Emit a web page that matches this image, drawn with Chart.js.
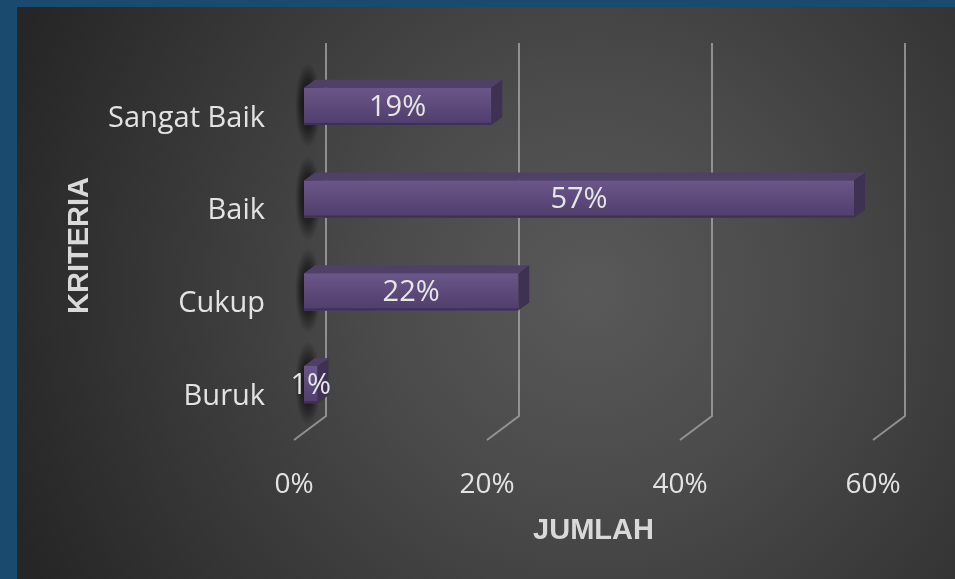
<!DOCTYPE html>
<html><head><meta charset="utf-8">
<script src="https://cdn.jsdelivr.net/npm/chart.js@4"></script>
<style>html,body{margin:0;padding:0;background:#1a4b6e;overflow:hidden}canvas{display:block}</style>
</head><body>
<canvas id="c" width="955" height="579"></canvas>
<script>
const categories = ['Sangat Baik', 'Baik', 'Cukup', 'Buruk'];
const percentValues = [19.4, 57.0, 22.2, 1.4];
const xTickValues = [0, 20, 40, 60];
const xAxisTitle = 'JUMLAH';
const yAxisTitle = 'KRITERIA';

const DX = 11, DY = -8;
const labelFont = '"Open Sans", "DejaVu Sans", sans-serif';
const titleFont = '"Liberation Sans", Arial, sans-serif';

const threeD = {
  id: 'threeD',
  beforeDraw(chart) {
    const {ctx, width, height} = chart;
    ctx.save();
    ctx.fillStyle = '#1a4b6e';
    ctx.fillRect(0, 0, width, height);
    const g = ctx.createRadialGradient(590, 290, 0, 590, 290, 620);
    g.addColorStop(0, '#595959');
    g.addColorStop(0.35, '#4a4a4a');
    g.addColorStop(1, '#262626');
    ctx.fillStyle = g;
    ctx.fillRect(17, 7, width - 17, height - 7);
    ctx.restore();
  },
  beforeDatasetsDraw(chart) {
    const {ctx, chartArea, scales: {x}} = chart;
    const meta = chart.getDatasetMeta(0);
    meta.data.forEach(b => {
      const h = b.height;
      ctx.save();
      ctx.translate(b.base + 4, b.y - 1);
      ctx.scale(13, h / 2 + 24);
      const g = ctx.createRadialGradient(0, 0, 0, 0, 0, 1);
      g.addColorStop(0, 'rgba(0,0,0,0.8)');
      g.addColorStop(0.55, 'rgba(0,0,0,0.5)');
      g.addColorStop(1, 'rgba(0,0,0,0)');
      ctx.fillStyle = g;
      ctx.fillRect(-1, -1, 2, 2);
      ctx.restore();
    });
    ctx.save();
    ctx.strokeStyle = 'rgba(170,170,170,0.75)';
    ctx.lineWidth = 2;
    x.ticks.forEach(t => {
      const px = x.getPixelForValue(t.value);
      ctx.beginPath();
      ctx.moveTo(px + 22, chartArea.top - 17);
      ctx.lineTo(px + 22, chartArea.bottom - 15);
      ctx.lineTo(px - 10, chartArea.bottom + 9);
      ctx.stroke();
    });
    ctx.restore();
  },
  afterDatasetsDraw(chart) {
    const {ctx} = chart;
    const meta = chart.getDatasetMeta(0);
    const data = chart.data.datasets[0].data;
    ctx.save();
    meta.data.forEach((b, i) => {
      const h = b.height, top = b.y - h / 2, bot = b.y + h / 2;
      const l = b.base, r = b.x;
      const g = ctx.createLinearGradient(0, top, 0, bot);
      g.addColorStop(0, '#6b5689');
      g.addColorStop(1, '#4f3d6b');
      ctx.fillStyle = g;
      ctx.fillRect(l, top, r - l, h);
      ctx.fillStyle = '#3e3055';
      ctx.fillRect(l, bot - 2, r - l, 2);
      ctx.fillStyle = '#4f4068';
      ctx.beginPath();
      ctx.moveTo(l, top); ctx.lineTo(l + DX, top + DY); ctx.lineTo(r + DX, top + DY); ctx.lineTo(r, top);
      ctx.closePath(); ctx.fill();
      ctx.fillStyle = '#3e3152';
      ctx.beginPath();
      ctx.moveTo(r, top); ctx.lineTo(r + DX, top + DY); ctx.lineTo(r + DX, bot + DY); ctx.lineTo(r, bot);
      ctx.closePath(); ctx.fill();
    });
    ctx.fillStyle = '#e6e6e6';
    ctx.font = '29px ' + labelFont;
    ctx.textAlign = 'center';
    ctx.textBaseline = 'middle';
    meta.data.forEach((b, i) => {
      ctx.fillText(Math.round(data[i]) + '%', (b.base + b.x) / 2, b.y + 1);
    });
    ctx.restore();
  }
};

new Chart(document.getElementById('c'), {
  type: 'bar',
  data: {
    labels: categories,
    datasets: [{
      data: percentValues,
      backgroundColor: '#5d4879',
      borderWidth: 0,
      barPercentage: 0.4,
      categoryPercentage: 1
    }]
  },
  options: {
    indexAxis: 'y',
    responsive: false,
    animation: false,
    devicePixelRatio: 1,
    layout: {padding: {top: 60, right: 72, bottom: 0, left: 0}},
    plugins: {legend: {display: false}, tooltip: {enabled: false}},
    scales: {
      x: {
        min: 0, max: 60,
        afterBuildTicks: s => { s.ticks = xTickValues.map(v => ({value: v})); },
        afterFit: s => { s.height = 148; },
        border: {display: false},
        grid: {display: false, drawTicks: false},
        ticks: {
          padding: 37, labelOffset: -10, color: '#e3e3e3',
          font: {family: labelFont, size: 28},
          callback: v => v + '%'
        },
        title: {
          display: true, text: xAxisTitle, color: '#d9d9d9',
          font: {family: titleFont, size: 29, weight: 'bold'},
          padding: {top: 0, bottom: 31}
        }
      },
      y: {
        afterFit: s => { s.width = 304; },
        border: {display: false},
        grid: {display: false, drawTicks: false},
        ticks: {
          padding: 39, labelOffset: 12, color: '#e3e3e3',
          font: {family: labelFont, size: 29}
        },
        title: {
          display: true, text: yAxisTitle, color: '#d9d9d9',
          font: {family: titleFont, size: 29, weight: 'bold'},
          padding: {top: 63, bottom: 0}
        }
      }
    }
  },
  plugins: [threeD]
});
</script>
</body></html>
